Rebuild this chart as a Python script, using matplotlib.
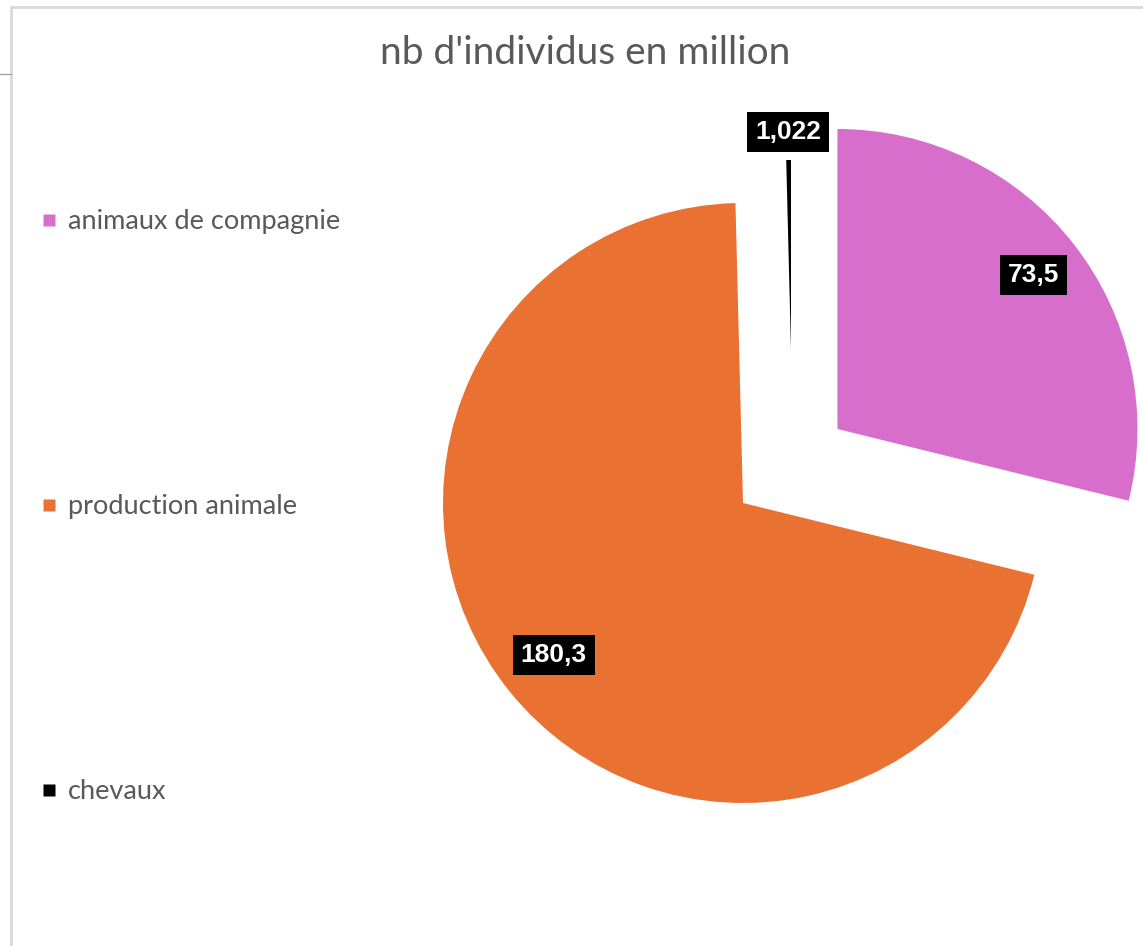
import numpy as np
import matplotlib
matplotlib.use("Agg")
import matplotlib.pyplot as plt
from matplotlib.lines import Line2D

plt.rcParams['font.family'] = ['Lato', 'DejaVu Sans']

# données
categories = ["animaux de compagnie", "production animale", "chevaux"]
valeurs = [73.5, 180.3, 1.022]
etiquettes = ["73,5", "180,3", "1,022"]
couleurs = ["#D86ECC", "#E97132", "#000000"]
titre = "nb d'individus en million"

W, H = 1143, 946
fig = plt.figure(figsize=(W / 100, H / 100), dpi=100)
ax = fig.add_axes([0, 0, 1, 1])
ax.set_xlim(0, W)
ax.set_ylim(0, H)
ax.axis('off')

# camembert (coordonnées en pixels, y vers le haut)
cx, cy, r = 743, H - 503, 300
wedges, _ = ax.pie(valeurs, colors=couleurs, startangle=90, counterclock=False,
                   explode=[0.4 * r, 0, 0], center=(cx, cy), radius=r,
                   wedgeprops=dict(linewidth=0))
ax.set_xlim(0, W)
ax.set_ylim(0, H)
ax.set_aspect('equal', adjustable='datalim')

# la part "chevaux" est décalée à part dans Excel
wedges[2].set_center((791, H - 350))
wedges[2].set_radius(190)

# étiquettes de données
for w, txt, dist in zip(wedges, etiquettes, [0.83, 0.81, None]):
    ang = np.deg2rad((w.theta1 + w.theta2) / 2)
    x0, y0 = w.center
    d = w.r * dist if dist else w.r + 28
    ax.text(x0 + d * np.cos(ang), y0 + d * np.sin(ang), txt,
            ha='center', va='center', color='white', fontsize=19,
            fontweight='bold', family=['Liberation Sans', 'DejaVu Sans'],
            bbox=dict(boxstyle='square,pad=0.3', fc='black', ec='none'))

# titre
fig.text(585 / W, 1 - 53 / H, titre, ha='center', va='center',
         fontsize=28, color='#595959')

# légende
handles = [Line2D([], [], marker='s', linestyle='none', markersize=9,
                  markerfacecolor=c, markeredgecolor='none') for c in couleurs]
fig.legend(handles, categories, loc='upper left',
           bbox_to_anchor=(42 / W, 1 - 209 / H), frameon=False,
           fontsize=19.5, labelcolor='#595959', labelspacing=9.6,
           handlelength=0.55, handletextpad=0.4, borderaxespad=0, borderpad=0)

# cadre de la zone de graphique
ax.plot([11, W], [H - 7, H - 7], color='#d9d9d9', lw=2, clip_on=False)
ax.plot([11, 11], [H - 7, 0], color='#d9d9d9', lw=2, clip_on=False)
ax.plot([0, 11], [H - 74, H - 74], color='#a6a6a6', lw=1, clip_on=False)

fig.savefig("out.png", dpi=100)
